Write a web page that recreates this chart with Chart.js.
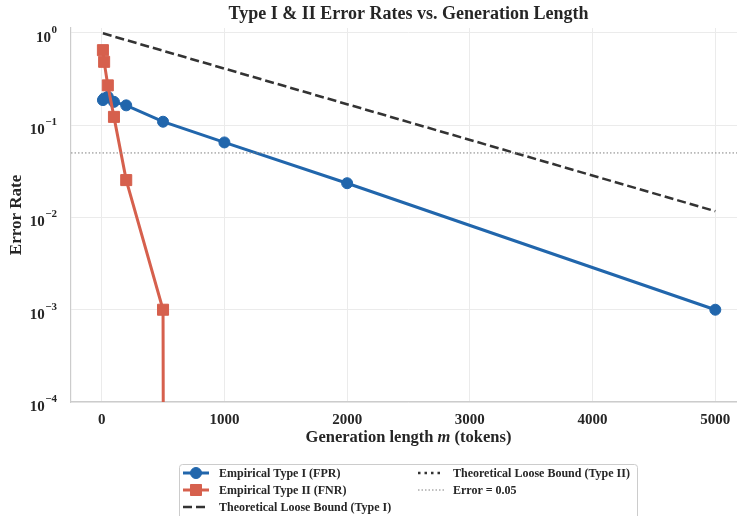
<!DOCTYPE html>
<html lang="en">
<head>
    <meta charset="UTF-8">
    <title>Type I &amp; II Error Rates vs. Generation Length</title>
    <script src="https://cdn.jsdelivr.net/npm/chart.js@4"></script>
    <style>
        html, body {
            margin: 0;
            padding: 0;
            background: #ffffff;
            overflow: hidden;
        }

        /* the original plot runs a little past the right edge of the picture */
        .chart-wrap {
            width: 737px;
            height: 516px;
            overflow: hidden;
        }
    </style>
</head>
<body>
    <div class="chart-wrap">
        <canvas id="errorChart" width="746" height="516"></canvas>
    </div>

    <script>
        // Data
        const mValues = [10, 20, 50, 100, 200, 500, 1000, 2000, 5000];
        const fprValues = [0.187, 0.195, 0.203, 0.179, 0.164, 0.109, 0.065, 0.0235, 0.001];
        const fnrValues = [0.65, 0.486, 0.27, 0.123, 0.0254, 0.001, 0, 0, 0];

        const boundTypeIM = [10, 5000];
        const boundTypeIValues = [0.99, 0.0117];
        // Type II loose bound is in the legend but never inside the visible range
        const boundTypeIIM = [];
        const boundTypeIIValues = [];

        const errorLevel = 0.05;

        const xTicks = [0, 1000, 2000, 3000, 4000, 5000];
        const yTicks = [1, 0.1, 0.01, 0.001, 0.0001];
        const yTickExponents = ['0', '\u22121', '\u22122', '\u22123', '\u22124'];
        const xRange = [-250, 5250];
        const yRange = [1e-4, 1.13];

        const SERIF = '"Liberation Serif", "DejaVu Serif", serif';
        const TEXT = '#262626';

        // matplotlib sends zeros on a log axis far below the plot, so the line drops straight down
        function toPoints(xs, ys) {
            return xs.map((x, i) => ({ x: x, y: ys[i] > 0 ? ys[i] : Number.MIN_VALUE }));
        }

        const decorPlugin = {
            id: 'decor',
            afterDraw(chart) {
                const ctx = chart.ctx;
                const area = chart.chartArea;
                const yScale = chart.scales.y;
                const cx = (area.left + area.right) / 2;

                ctx.save();
                ctx.fillStyle = TEXT;

                // title
                ctx.font = 'bold 18px ' + SERIF;
                ctx.textAlign = 'center';
                ctx.textBaseline = 'middle';
                ctx.fillText('Type I & II Error Rates vs. Generation Length', cx, 14);

                // y tick labels as 10 with a superscript
                yTicks.forEach((v, i) => {
                    const py = yScale.getPixelForValue(v) + 4;
                    ctx.font = 'bold 11px ' + SERIF;
                    const supW = ctx.measureText(yTickExponents[i]).width;
                    const right = 57;
                    ctx.textAlign = 'left';
                    ctx.textBaseline = 'alphabetic';
                    ctx.fillText(yTickExponents[i], right - supW, py - 4);
                    ctx.font = 'bold 15px ' + SERIF;
                    ctx.textAlign = 'right';
                    ctx.fillText('10', right - supW - 0.5, py + 5);
                });

                // y axis title
                ctx.save();
                ctx.translate(17, (area.top + area.bottom) / 2);
                ctx.rotate(-Math.PI / 2);
                ctx.font = 'bold 17px ' + SERIF;
                ctx.textAlign = 'center';
                ctx.textBaseline = 'middle';
                ctx.fillText('Error Rate', 0, 0);
                ctx.restore();

                // x axis title with italic m
                const parts = [
                    ['Generation length ', 'bold 16.5px ' + SERIF],
                    ['m', 'italic bold 16.5px ' + SERIF],
                    [' (tokens)', 'bold 16.5px ' + SERIF]
                ];
                let total = 0;
                parts.forEach(p => { ctx.font = p[1]; total += ctx.measureText(p[0]).width; });
                let px = cx - total / 2;
                ctx.textAlign = 'left';
                ctx.textBaseline = 'middle';
                parts.forEach(p => {
                    ctx.font = p[1];
                    ctx.fillText(p[0], px, 438);
                    px += ctx.measureText(p[0]).width;
                });

                // legend, two columns filled top to bottom like matplotlib
                const boxX = 179, boxY = 464, boxW = 458, boxH = 60;
                ctx.beginPath();
                ctx.roundRect(boxX + 0.5, boxY + 0.5, boxW, boxH, 3);
                ctx.fillStyle = 'rgba(255,255,255,0.9)';
                ctx.fill();
                ctx.strokeStyle = '#cccccc';
                ctx.lineWidth = 1;
                ctx.stroke();

                const cols = [183, 418];
                const rows = [473, 490, 507];
                const ds = chart.data.datasets;
                ds.forEach((d, i) => {
                    const col = Math.floor(i / 3);
                    const row = i % 3;
                    const x0 = cols[col];
                    const y0 = rows[row];
                    const x1 = x0 + 26;
                    ctx.save();
                    ctx.strokeStyle = d.borderColor;
                    ctx.lineWidth = d.borderWidth;
                    ctx.setLineDash(d.borderDash || []);
                    ctx.beginPath();
                    ctx.moveTo(x0, y0);
                    ctx.lineTo(x1, y0);
                    ctx.stroke();
                    ctx.restore();
                    if (d.pointRadius > 0) {
                        ctx.fillStyle = d.pointBackgroundColor;
                        ctx.strokeStyle = d.pointBorderColor;
                        ctx.lineWidth = d.pointBorderWidth;
                        ctx.beginPath();
                        if (d.pointStyle === 'rect') {
                            const s = Math.SQRT1_2 * d.pointRadius;
                            ctx.rect((x0 + x1) / 2 - s, y0 - s, 2 * s, 2 * s);
                        } else {
                            ctx.arc((x0 + x1) / 2, y0, d.pointRadius, 0, Math.PI * 2);
                        }
                        ctx.fill();
                        ctx.stroke();
                    }
                    ctx.fillStyle = TEXT;
                    ctx.font = 'bold 12px ' + SERIF;
                    ctx.textAlign = 'left';
                    ctx.textBaseline = 'middle';
                    ctx.fillText(d.label, col === 0 ? 219 : 453, y0 + 1);
                });

                ctx.restore();
            }
        };

        const ctx = document.getElementById('errorChart').getContext('2d');
        const errorChart = new Chart(ctx, {
            type: 'line',
            data: {
                datasets: [{
                    label: 'Empirical Type I (FPR)',
                    data: toPoints(mValues, fprValues),
                    borderColor: '#2166ac',
                    backgroundColor: '#2166ac',
                    pointBackgroundColor: '#2166ac',
                    pointBorderColor: '#2166ac',
                    borderWidth: 3,
                    pointStyle: 'circle',
                    pointRadius: 5.5,
                    pointBorderWidth: 1,
                    order: 4
                }, {
                    label: 'Empirical Type II (FNR)',
                    data: toPoints(mValues, fnrValues),
                    borderColor: '#d6604d',
                    backgroundColor: '#d6604d',
                    pointBackgroundColor: '#d6604d',
                    pointBorderColor: '#d6604d',
                    borderWidth: 3,
                    pointStyle: 'rect',
                    pointRadius: 7.8,
                    pointBorderWidth: 1,
                    order: 3
                }, {
                    label: 'Theoretical Loose Bound (Type I)',
                    data: toPoints(boundTypeIM, boundTypeIValues),
                    borderColor: '#333333',
                    borderWidth: 2.5,
                    borderDash: [9, 4],
                    pointRadius: 0,
                    order: 2
                }, {
                    label: 'Theoretical Loose Bound (Type II)',
                    data: toPoints(boundTypeIIM, boundTypeIIValues),
                    borderColor: '#333333',
                    borderWidth: 2.5,
                    borderDash: [2.5, 4],
                    pointRadius: 0,
                    order: 1
                }, {
                    label: 'Error = 0.05',
                    data: xRange.map(x => ({ x: x, y: errorLevel })),
                    borderColor: '#808080',
                    borderWidth: 1,
                    borderDash: [1.5, 2],
                    pointRadius: 0,
                    order: 0
                }]
            },
            options: {
                responsive: false,
                animation: false,
                layout: {
                    autoPadding: false,
                    padding: { top: 28, left: 0, right: 0, bottom: 80 }
                },
                plugins: {
                    legend: { display: false },
                    title: { display: false },
                    tooltip: { enabled: false }
                },
                scales: {
                    x: {
                        type: 'linear',
                        min: xRange[0],
                        max: xRange[1],
                        afterBuildTicks: scale => {
                            scale.ticks = xTicks.map(v => ({ value: v }));
                        },
                        afterFit: scale => {
                            scale.height = 34;
                            scale.paddingLeft = 0;
                            scale.paddingRight = 0;
                        },
                        grid: { color: '#ebebeb', lineWidth: 1, drawTicks: false },
                        border: { color: '#cccccc', width: 1.2 },
                        ticks: {
                            padding: 9,
                            color: TEXT,
                            maxRotation: 0,
                            callback: v => String(v),
                            font: { family: SERIF, size: 15, weight: 'bold' }
                        }
                    },
                    y: {
                        type: 'logarithmic',
                        min: yRange[0],
                        max: yRange[1],
                        afterBuildTicks: scale => {
                            scale.ticks = yTicks.map(v => ({ value: v }));
                        },
                        afterFit: scale => {
                            scale.width = 71;
                            scale.paddingTop = 0;
                            scale.paddingBottom = 0;
                        },
                        grid: { color: '#ebebeb', lineWidth: 1, drawTicks: false },
                        border: { color: '#cccccc', width: 1.2 },
                        ticks: { callback: () => '' }
                    }
                }
            },
            plugins: [decorPlugin]
        });
    </script>
</body>
</html>
